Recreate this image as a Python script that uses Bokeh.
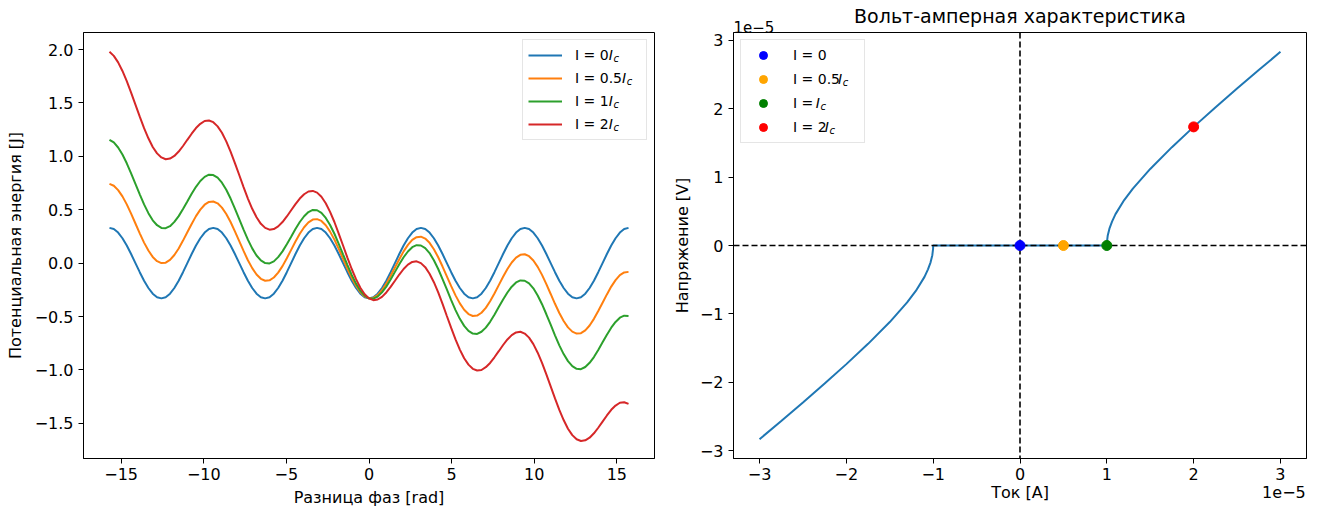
from bokeh.plotting import figure
from bokeh.models import (Range1d, FixedTicker, CustomJSTickFormatter, Span,
                          Legend, LegendItem, Label, LinearAxis)
from bokeh.layouts import row
from bokeh.embed import file_html
from bokeh.resources import INLINE

# ---------------- data ----------------
phase = [-15.708, -15.446, -15.184, -14.923, -14.661, -14.399, -14.137, -13.875,
         -13.614, -13.352, -13.09, -12.828, -12.566, -12.305, -12.043, -11.781,
         -11.519, -11.257, -10.996, -10.734, -10.472, -10.21, -9.948, -9.687,
         -9.425, -9.163, -8.901, -8.639, -8.378, -8.116, -7.854, -7.592,
         -7.33, -7.069, -6.807, -6.545, -6.283, -6.021, -5.76, -5.498,
         -5.236, -4.974, -4.712, -4.451, -4.189, -3.927, -3.665, -3.403,
         -3.142, -2.88, -2.618, -2.356, -2.094, -1.833, -1.571, -1.309,
         -1.047, -0.785, -0.524, -0.262, 0.0, 0.262, 0.524, 0.785,
         1.047, 1.309, 1.571, 1.833, 2.094, 2.356, 2.618, 2.88,
         3.142, 3.403, 3.665, 3.927, 4.189, 4.451, 4.712, 4.974,
         5.236, 5.498, 5.76, 6.021, 6.283, 6.545, 6.807, 7.069,
         7.33, 7.592, 7.854, 8.116, 8.378, 8.639, 8.901, 9.163,
         9.425, 9.687, 9.948, 10.21, 10.472, 10.734, 10.996, 11.257,
         11.519, 11.781, 12.043, 12.305, 12.566, 12.828, 13.09, 13.352,
         13.614, 13.875, 14.137, 14.399, 14.661, 14.923, 15.184, 15.446,
         15.708]

energy_0 = [0.33, 0.319, 0.286, 0.233, 0.165, 0.085, 0.0, -0.085, -0.165, -0.233, -0.286, -0.319,
            -0.33, -0.319, -0.286, -0.233, -0.165, -0.085, 0.0, 0.085, 0.165, 0.233, 0.286, 0.319,
            0.33, 0.319, 0.286, 0.233, 0.165, 0.085, 0.0, -0.085, -0.165, -0.233, -0.286, -0.319,
            -0.33, -0.319, -0.286, -0.233, -0.165, -0.085, 0.0, 0.085, 0.165, 0.233, 0.286, 0.319,
            0.33, 0.319, 0.286, 0.233, 0.165, 0.085, 0.0, -0.085, -0.165, -0.233, -0.286, -0.319,
            -0.33, -0.319, -0.286, -0.233, -0.165, -0.085, 0.0, 0.085, 0.165, 0.233, 0.286, 0.319,
            0.33, 0.319, 0.286, 0.233, 0.165, 0.085, 0.0, -0.085, -0.165, -0.233, -0.286, -0.319,
            -0.33, -0.319, -0.286, -0.233, -0.165, -0.085, 0.0, 0.085, 0.165, 0.233, 0.286, 0.319,
            0.33, 0.319, 0.286, 0.233, 0.165, 0.085, 0.0, -0.085, -0.165, -0.233, -0.286, -0.319,
            -0.33, -0.319, -0.286, -0.233, -0.165, -0.085, 0.0, 0.085, 0.165, 0.233, 0.286, 0.319,
            0.33]
energy_05 = [0.742, 0.725, 0.684, 0.625, 0.550, 0.463, 0.371, 0.279, 0.192, 0.118, 0.058, 0.018,
             0.000, 0.004, 0.030, 0.076, 0.137, 0.211, 0.289, 0.367, 0.440, 0.501, 0.547, 0.573,
             0.577, 0.560, 0.520, 0.460, 0.385, 0.298, 0.206, 0.114, 0.027, -0.047, -0.107, -0.147,
             -0.165, -0.161, -0.135, -0.089, -0.028, 0.046, 0.124, 0.202, 0.275, 0.336, 0.382, 0.408,
             0.412, 0.395, 0.355, 0.295, 0.220, 0.133, 0.041, -0.051, -0.138, -0.212, -0.272, -0.312,
             -0.330, -0.326, -0.300, -0.254, -0.192, -0.119, -0.041, 0.037, 0.110, 0.171, 0.217, 0.243,
             0.248, 0.230, 0.190, 0.130, 0.055, -0.032, -0.124, -0.216, -0.302, -0.377, -0.437, -0.477,
             -0.495, -0.491, -0.465, -0.419, -0.357, -0.284, -0.206, -0.128, -0.055, 0.006, 0.052, 0.078,
             0.083, 0.065, 0.025, -0.035, -0.110, -0.197, -0.289, -0.381, -0.467, -0.542, -0.602, -0.642,
             -0.660, -0.656, -0.630, -0.584, -0.522, -0.449, -0.371, -0.293, -0.220, -0.159, -0.112, -0.087,
             -0.082]
energy_1 = [1.155, 1.130, 1.083, 1.017, 0.935, 0.841, 0.742, 0.644, 0.550, 0.468, 0.401, 0.355,
            0.330, 0.327, 0.346, 0.386, 0.440, 0.506, 0.577, 0.649, 0.715, 0.769, 0.808, 0.828,
            0.825, 0.800, 0.753, 0.687, 0.605, 0.511, 0.412, 0.314, 0.220, 0.138, 0.071, 0.025,
            0.000, -0.003, 0.016, 0.056, 0.110, 0.176, 0.247, 0.319, 0.385, 0.439, 0.478, 0.498,
            0.495, 0.470, 0.423, 0.357, 0.275, 0.181, 0.082, -0.016, -0.110, -0.192, -0.259, -0.305,
            -0.330, -0.333, -0.313, -0.274, -0.220, -0.154, -0.082, -0.011, 0.055, 0.109, 0.149, 0.168,
            0.165, 0.140, 0.094, 0.027, -0.055, -0.149, -0.247, -0.346, -0.440, -0.522, -0.588, -0.635,
            -0.660, -0.663, -0.643, -0.604, -0.550, -0.484, -0.412, -0.341, -0.275, -0.221, -0.181, -0.162,
            -0.165, -0.190, -0.236, -0.303, -0.385, -0.479, -0.577, -0.676, -0.770, -0.852, -0.918, -0.965,
            -0.990, -0.993, -0.973, -0.934, -0.880, -0.814, -0.742, -0.671, -0.605, -0.551, -0.511, -0.492,
            -0.495]
energy_2 = [1.979, 1.941, 1.880, 1.800, 1.704, 1.597, 1.484, 1.372, 1.264, 1.169, 1.088, 1.028,
            0.990, 0.973, 0.979, 1.004, 1.045, 1.097, 1.155, 1.212, 1.265, 1.305, 1.331, 1.336,
            1.320, 1.281, 1.221, 1.140, 1.045, 0.937, 0.825, 0.712, 0.605, 0.509, 0.429, 0.368,
            0.330, 0.313, 0.319, 0.344, 0.385, 0.437, 0.495, 0.552, 0.605, 0.645, 0.671, 0.676,
            0.660, 0.621, 0.561, 0.480, 0.385, 0.277, 0.165, 0.052, -0.055, -0.150, -0.231, -0.291,
            -0.330, -0.347, -0.341, -0.316, -0.275, -0.222, -0.165, -0.107, -0.055, -0.014, 0.011, 0.017,
            0.000, -0.038, -0.099, -0.179, -0.275, -0.382, -0.495, -0.607, -0.715, -0.810, -0.891, -0.951,
            -0.990, -1.006, -1.001, -0.975, -0.935, -0.882, -0.825, -0.767, -0.715, -0.674, -0.649, -0.643,
            -0.660, -0.698, -0.759, -0.839, -0.935, -1.042, -1.155, -1.267, -1.375, -1.470, -1.551, -1.611,
            -1.650, -1.666, -1.660, -1.635, -1.594, -1.542, -1.484, -1.427, -1.374, -1.334, -1.308, -1.303,
            -1.319]
energy_series = [energy_0, energy_05, energy_1, energy_2]
energy_labels = ["I = 0", "I = 0.5", "I = 1", "I = 2"]
energy_colors = ["#1f77b4", "#ff7f0e", "#2ca02c", "#d62728"]

# current / voltage in units of 1e-5
current = [-3.0, -2.75, -2.5, -2.25, -2.0, -1.75, -1.5, -1.3, -1.2, -1.1, -1.06, -1.03,
           -1.01, -1.001, -1.0, 1.0, 1.001, 1.01, 1.03, 1.06, 1.1, 1.2, 1.3, 1.5, 1.75,
           2.0, 2.25, 2.5, 2.75, 3.0]
voltage = [-2.828, -2.561, -2.291, -2.016, -1.732, -1.436, -1.118, -0.831, -0.663, -0.458,
           -0.348, -0.246, -0.141, -0.045, 0.0, 0.0, 0.045, 0.141, 0.246, 0.348, 0.458,
           0.663, 0.831, 1.118, 1.436, 1.732, 2.016, 2.291, 2.561, 2.828]
point_current = [0.0, 0.5, 1.0, 2.0]
point_voltage = [0.0, 0.0, 0.0, 1.732]
point_colors = ["blue", "orange", "green", "red"]
point_labels = ["I = 0", "I = 0.5", "I =", "I = 2"]
point_has_ic = [False, True, True, True]

left_xticks = [-15, -10, -5, 0, 5, 10, 15]
left_yticks = [-1.5, -1.0, -0.5, 0.0, 0.5, 1.0, 1.5, 2.0]
right_ticks = [-3, -2, -1, 0, 1, 2, 3]

TITLE = "Вольт-амперная характеристика"
XLABEL_L = "Разница фаз [rad]"
YLABEL_L = "Потенциальная энергия [J]"
XLABEL_R = "Ток [А]"
YLABEL_R = "Напряжение [V]"
OFFSET_TEXT = "1e\u22125"
OFFSET_X_POS = 3.04          # where the lower "1e-5" sits along the current axis

FONT = "DejaVu Sans"
TICK_FS = "16px"
LABEL_FS = "16px"
LEG_FS = 14


def fmt(dec):
    return CustomJSTickFormatter(code="""
        const s = Math.abs(tick).toFixed(%d);
        return (tick < -1e-9 ? '\u2212' : '') + s;""" % dec)


def style(p, xt, yt, xdec, ydec):
    p.xgrid.visible = False
    p.ygrid.visible = False
    p.outline_line_color = "black"
    p.outline_line_width = 1
    p.outline_line_alpha = 1
    p.xaxis.ticker = FixedTicker(ticks=xt)
    p.yaxis.ticker = FixedTicker(ticks=yt)
    p.xaxis.formatter = fmt(xdec)
    p.yaxis.formatter = fmt(ydec)
    for ax in (p.xaxis[0], p.yaxis[0]):
        ax.axis_line_color = "black"
        ax.major_tick_line_color = "black"
        ax.major_tick_out = 5
        ax.major_tick_in = 0
        ax.minor_tick_line_color = None
        ax.major_label_text_font = FONT
        ax.major_label_text_font_size = TICK_FS
        ax.major_label_text_color = "black"
        ax.axis_label_text_font = FONT
        ax.axis_label_text_font_size = LABEL_FS
        ax.axis_label_text_font_style = "normal"
        ax.axis_label_text_color = "black"
    p.xaxis.major_label_standoff = 4
    p.yaxis.major_label_standoff = 5
    p.xaxis.axis_label_standoff = 5
    p.yaxis.axis_label_standoff = 7


def adv(s, size):
    w = {"I": 604, " ": 651, "=": 1716, ".": 651}
    return sum(w.get(ch, 1303) for ch in s) * size / 2048.0


def add_ic(p, text_x, row_y, prefix):
    x0 = text_x + adv(prefix, LEG_FS) - 1.5
    p.add_layout(Label(x=x0, y=row_y, x_units="screen", y_units="screen", text="I",
                       text_font=FONT, text_font_size="%dpx" % LEG_FS, text_font_style="italic",
                       text_baseline="middle", text_align="left", text_color="black"))
    p.add_layout(Label(x=x0 + 4.8, y=row_y - 3.5, x_units="screen", y_units="screen", text="c",
                       text_font=FONT, text_font_size="10px", text_font_style="italic",
                       text_baseline="middle", text_align="left", text_color="black"))


# ---------------- left figure ----------------
W1, H = 660, 512
BL1, BR1, BT, BB = 83, 6, 32, 54
p1 = figure(width=W1, height=H, x_range=Range1d(-17.28, 17.28), y_range=Range1d(-1.83, 2.16),
            output_backend="svg", toolbar_location=None,
            min_border_left=BL1, min_border_right=BR1, min_border_top=BT, min_border_bottom=BB)
style(p1, left_xticks, left_yticks, 0, 1)
p1.xaxis.axis_label = XLABEL_L
p1.yaxis.axis_label = YLABEL_L

items1 = []
for ys, lab, col in zip(energy_series, energy_labels, energy_colors):
    r = p1.line(phase, ys, line_color=col, line_width=2)
    items1.append(LegendItem(label=lab, renderers=[r]))

LEG_PAD, GLW, GLH, STANDOFF, LABW, MARGIN = 5, 34, 20, 13, 66, 7
leg1 = Legend(items=items1, location="top_right", margin=MARGIN, padding=LEG_PAD, spacing=3,
              glyph_width=GLW, glyph_height=GLH, label_height=GLH, label_width=LABW,
              label_standoff=STANDOFF, label_text_font=FONT, label_text_font_size="%dpx" % LEG_FS,
              label_text_color="black", border_line_color="#cccccc", border_line_width=1,
              background_fill_alpha=0.0)
p1.add_layout(leg1)

fw1 = W1 - BL1 - BR1
fh = H - BT - BB
box_w = 2 * LEG_PAD + GLW + STANDOFF + LABW
text_x1 = fw1 - MARGIN - box_w + LEG_PAD + GLW + STANDOFF
for i, lab in enumerate(energy_labels):
    row_y = fh - MARGIN - LEG_PAD - GLH / 2 - i * (GLH + 3)
    add_ic(p1, text_x1, row_y, lab)

# ---------------- right figure ----------------
W2 = 660
BL2, BR2 = 73, 14
p2 = figure(width=W2, height=H, x_range=Range1d(-3.3, 3.3), y_range=Range1d(-3.11, 3.11),
            output_backend="svg", toolbar_location=None,
            min_border_left=BL2, min_border_right=BR2, min_border_top=BT, min_border_bottom=BB)
style(p2, right_ticks, right_ticks, 0, 0)
p2.yaxis.axis_label = YLABEL_R
p2.yaxis.axis_label_standoff = 5

# second, line-less axis below: carries the axis title and the "1e-5" offset text in one row
xlab_axis = LinearAxis(ticker=FixedTicker(ticks=[0.0, OFFSET_X_POS]),
                       major_label_overrides={0.0: XLABEL_R, OFFSET_X_POS: OFFSET_TEXT},
                       axis_line_color=None, major_tick_line_color=None, minor_tick_line_color=None,
                       major_tick_out=0, major_tick_in=0, major_label_standoff=0,
                       major_label_text_font=FONT, major_label_text_font_size=TICK_FS,
                       major_label_text_color="black")
p2.add_layout(xlab_axis, "below")

# offset text above the frame, kept in the side panel so the frame does not clip it
p2.add_layout(Label(x=0, y=6, x_units="screen", y_units="screen", text=OFFSET_TEXT,
                    text_font=FONT, text_font_size="15px", text_baseline="alphabetic",
                    text_align="left", text_color="black"), "above")

p2.title.text = TITLE
p2.title.align = "center"
p2.title.text_font = FONT
p2.title.text_font_size = "19px"
p2.title.text_font_style = "normal"
p2.title.text_color = "black"
p2.title.standoff = -13

p2.line(current, voltage, line_color="#1f77b4", line_width=2)
for dim in ("width", "height"):
    p2.add_layout(Span(location=0, dimension=dim, line_color="black", line_width=1.6,
                       line_dash="6 3", level="glyph"))

items2 = []
for cx, vy, col, lab in zip(point_current, point_voltage, point_colors, point_labels):
    r = p2.scatter([cx], [vy], size=10, fill_color=col, line_color=col, level="annotation")
    items2.append(LegendItem(label=lab, renderers=[r]))

leg2 = Legend(items=items2, location="top_left", margin=MARGIN, padding=LEG_PAD, spacing=4,
              glyph_width=GLW, glyph_height=GLH, label_height=GLH, label_width=LABW,
              label_standoff=STANDOFF, label_text_font=FONT, label_text_font_size="%dpx" % LEG_FS,
              label_text_color="black", border_line_color="#cccccc", border_line_width=1,
              background_fill_alpha=0.0)
p2.add_layout(leg2)

text_x2 = MARGIN + LEG_PAD + GLW + STANDOFF
for i, (lab, has) in enumerate(zip(point_labels, point_has_ic)):
    if has:
        row_y = fh - MARGIN - LEG_PAD - GLH / 2 - i * (GLH + 4)
        pre = lab + " " if lab.endswith("=") else lab
        add_ic(p2, text_x2, row_y, pre)

layout = row(p1, p2)
open("out.html", "w").write(file_html(layout, INLINE))
